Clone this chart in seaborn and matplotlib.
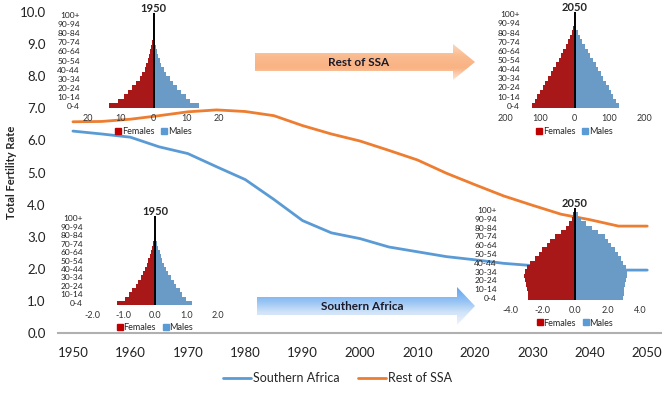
import numpy as np
import pandas as pd
import matplotlib
matplotlib.use('Agg')
import matplotlib.pyplot as plt
from matplotlib.patches import Polygon
from matplotlib.lines import Line2D
from matplotlib.colors import LinearSegmentedColormap
import seaborn as sns

# ---- main series: total fertility rate, 5-year steps
years = list(range(1950, 2051, 5))
southern_africa = [6.29, 6.20, 6.10, 5.80, 5.59, 5.18, 4.78, 4.16, 3.50, 3.12, 2.94,
                   2.68, 2.53, 2.38, 2.28, 2.17, 2.10, 2.05, 2.00, 1.96, 1.96]
rest_of_ssa = [6.58, 6.59, 6.66, 6.77, 6.89, 6.95, 6.90, 6.77, 6.46, 6.20, 5.98,
               5.69, 5.39, 4.98, 4.62, 4.27, 3.98, 3.70, 3.53, 3.33, 3.33]
year_ticks = list(range(1950, 2051, 10))

# ---- pyramids, age groups youngest first
ages = ['0-4', '5-9', '10-14', '15-19', '20-24', '25-29', '30-34', '35-39', '40-44',
        '45-49', '50-54', '55-59', '60-64', '65-69', '70-74', '75-79', '80-84',
        '85-89', '90-94', '95-99', '100+']

ssa1950_f = [13.6, 10.8, 9.1, 7.8, 6.5, 5.2, 4.2, 3.4, 2.7, 2.2, 1.7, 1.3, 1.0, 0.7,
             0.5, 0.3, 0.15, 0.05, 0.02, 0.01, 0.0]
ssa1950_m = [14.0, 11.2, 9.8, 8.4, 7.1, 5.9, 4.9, 3.9, 3.1, 2.4, 1.9, 1.5, 1.1, 0.8,
             0.6, 0.4, 0.2, 0.07, 0.02, 0.01, 0.0]
ssa2050_f = [121, 114, 107, 99, 92, 85, 77, 69, 62, 54, 46, 38, 32, 25, 18, 12, 7, 3,
             1, 0.3, 0.1]
ssa2050_m = [127, 119, 112, 105, 98, 90, 83, 76, 68, 62, 54, 46, 38, 31, 23, 16, 10, 4,
             1.5, 0.4, 0.1]
sa1950_f = [1.20, 0.96, 0.82, 0.72, 0.61, 0.53, 0.44, 0.38, 0.32, 0.26, 0.21, 0.17,
            0.13, 0.09, 0.06, 0.03, 0.01, 0.005, 0.0, 0.0, 0.0]
sa1950_m = [1.18, 0.99, 0.86, 0.78, 0.67, 0.59, 0.50, 0.42, 0.36, 0.29, 0.23, 0.19,
            0.15, 0.10, 0.07, 0.04, 0.02, 0.01, 0.0, 0.0, 0.0]
sa2050_f = [2.89, 2.89, 2.95, 3.03, 3.09, 3.13, 3.09, 2.95, 2.78, 2.49, 2.23, 2.04,
            1.75, 1.55, 1.24, 0.89, 0.58, 0.37, 0.20, 0.10, 0.04]
sa2050_m = [2.97, 3.00, 3.03, 3.07, 3.13, 3.18, 3.18, 3.13, 2.97, 2.82, 2.62, 2.45,
            2.21, 2.00, 1.84, 1.42, 1.03, 0.66, 0.39, 0.19, 0.06]

ticks_ssa1950 = [-20, -10, 0, 10, 20]
labels_ssa1950 = ['20', '10', '0', '10', '20']
ticks_ssa2050 = [-200, -100, 0, 100, 200]
labels_ssa2050 = ['200', '100', '0', '100', '200']
ticks_sa1950 = [-2, -1, 0, 1, 2]
labels_sa1950 = ['-2.0', '-1.0', '0.0', '1.0', '2.0']
ticks_sa2050 = [-4, -2, 0, 2, 4]
labels_sa2050 = ['-4.0', '-2.0', '0.0', '2.0', '4.0']

BLUE = '#5b9bd5'
ORANGE = '#ed7d31'
RED = '#c00000'
W, H = 672, 395

sns.set_style('white')
plt.rcParams['font.family'] = ['Lato', 'DejaVu Sans']


def px_box(x0, x1, ytop, ybot):
    return [x0 / W, 1 - ybot / H, (x1 - x0) / W, (ybot - ytop) / H]


fig = plt.figure(figsize=(W / 100, H / 100), dpi=100)

# overlay for the arrows (figure pixel coords)
ov = fig.add_axes([0, 0, 1, 1])
ov.set_xlim(0, W)
ov.set_ylim(H, 0)
ov.axis('off')


def grad_arrow(x0, xh, tip, b1, b2, h1, h2, colors, text):
    cy = (b1 + b2) / 2
    pts = [(x0, b1), (xh, b1), (xh, h1), (tip, cy), (xh, h2), (xh, b2), (x0, b2)]
    poly = Polygon(pts, closed=True, facecolor='none', edgecolor='none')
    ov.add_patch(poly)
    cmap = LinearSegmentedColormap.from_list('g', colors)
    grad = np.linspace(0, 1, 64).reshape(-1, 1)
    im = ov.imshow(grad, cmap=cmap, extent=(x0, tip, h2, h1), origin='upper',
                   aspect='auto', zorder=1)
    im.set_clip_path(poly)
    ov.text((x0 + xh) / 2 + 5, cy, text, ha='center', va='center',
            fontsize=8.5, fontweight='bold', color='#1a1a2a', zorder=2)


grad_arrow(255, 453, 475, 53, 71, 44, 80,
           ['#fcd6bb', '#fabb8f', '#f9b283', '#fde6d4'], 'Rest of SSA')
grad_arrow(257, 457, 475, 297, 315, 287, 325,
           ['#62a4ee', '#8fbff3', '#d0e3f8', '#eef4fc'], 'Southern Africa')
ov.set_xlim(0, W)
ov.set_ylim(H, 0)

# ---- main chart
ax = fig.add_axes(px_box(58, 661, 12, 333))
ax.patch.set_alpha(0)
df = pd.DataFrame({
    'year': years * 2,
    'tfr': southern_africa + rest_of_ssa,
    'region': ['Southern Africa'] * len(years) + ['Rest of SSA'] * len(years),
})
sns.lineplot(data=df, x='year', y='tfr', hue='region',
             palette={'Southern Africa': BLUE, 'Rest of SSA': ORANGE},
             linewidth=2.0, ax=ax)
ax.set_xlim(1947.4, 2052.4)
ax.set_ylim(0, 10)
ax.set_xticks(year_ticks)
ax.set_xticklabels([str(y) for y in year_ticks])
ax.set_yticks(np.arange(0, 10.1, 1))
ax.set_yticklabels(['%.1f' % v for v in np.arange(0, 10.1, 1)])
ax.tick_params(length=0, labelsize=9.5, colors='#222222')
ax.tick_params(axis='x', pad=10)
ax.tick_params(axis='y', pad=9)
ax.set_xlabel('')
ax.set_ylabel('Total Fertility Rate', fontsize=8, fontweight='bold', labelpad=2)
for s in ['top', 'right', 'left']:
    ax.spines[s].set_visible(False)
ax.spines['bottom'].set_color('#b0b0b0')
ax.spines['bottom'].set_linewidth(1.5)
sns.move_legend(ax, 'center', bbox_to_anchor=(0.464, -0.14), ncol=2, frameon=False,
                title=None, fontsize=9, handlelength=2.2, columnspacing=1.5,
                handletextpad=0.2)


def pyramid(box, fem, mal, ticks, tlabels, title, ypad):
    pax = fig.add_axes(box)
    pax.patch.set_alpha(0)
    order = ages[::-1]
    d = pd.DataFrame({
        'age': ages * 2,
        'value': [-v for v in fem] + list(mal),
        'sex': ['Females'] * len(ages) + ['Males'] * len(ages),
    })
    sns.barplot(data=d, x='value', y='age', hue='sex', order=order,
                hue_order=['Females', 'Males'], palette=[RED, BLUE], dodge=False,
                width=1.0, linewidth=0, orient='h', legend=False, ax=pax)
    pax.axvline(0, color='black', lw=1.4, zorder=5)
    pax.set_xlim(ticks[0], ticks[-1])
    pax.set_ylim(len(ages) - 0.5, -0.5)
    pax.set_xticks(ticks)
    pax.set_xticklabels(tlabels)
    pax.set_yticks(range(0, len(ages), 2))
    pax.set_yticklabels(order[::2])
    pax.tick_params(axis='x', length=0, labelsize=6.5, pad=4, colors='#333333')
    pax.tick_params(axis='y', length=0, labelsize=6, pad=ypad, colors='#222222')
    pax.set_xlabel('')
    pax.set_ylabel('')
    pax.set_title(title, fontsize=8, fontweight='bold', pad=1)
    for s in pax.spines.values():
        s.set_visible(False)
    handles = [Line2D([], [], marker='s', ls='', color=RED, markersize=5),
               Line2D([], [], marker='s', ls='', color=BLUE, markersize=5)]
    pax.legend(handles, ['Females', 'Males'], loc='center',
               bbox_to_anchor=(0.5, -0.25), ncol=2, frameon=False, fontsize=6.5,
               handlelength=0.6, handletextpad=0.1, columnspacing=0.8)
    return pax


pyramid(px_box(88, 219, 13, 108), ssa1950_f, ssa1950_m,
        ticks_ssa1950, labels_ssa1950, '1950', 5.8)
pyramid(px_box(505, 644, 12, 108), ssa2050_f, ssa2050_m,
        ticks_ssa2050, labels_ssa2050, '2050', -10.8)
pyramid(px_box(92, 218, 216, 305), sa1950_f, sa1950_m,
        ticks_sa1950, labels_sa1950, '1950', 6.5)
pyramid(px_box(510, 640, 208, 300), sa2050_f, sa2050_m,
        ticks_sa2050, labels_sa2050, '2050', 9.4)

fig.savefig('out.png', dpi=100)
